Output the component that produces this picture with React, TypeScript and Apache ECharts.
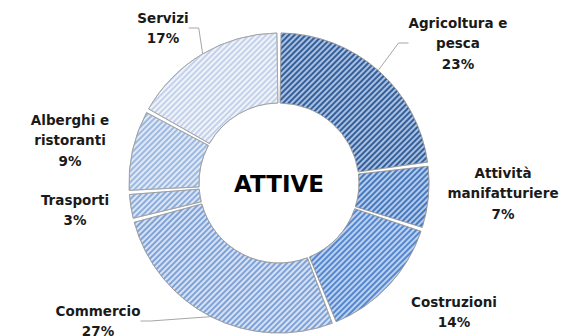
import React, { useEffect, useRef } from "react";
import * as echarts from "echarts";

const categories = [
  "Agricoltura e\npesca",
  "Attività\nmanifatturiere",
  "Costruzioni",
  "Commercio",
  "Trasporti",
  "Alberghi e\nristoranti",
  "Servizi",
];
const values = [23, 7, 14, 27, 3, 9, 17];
const centerTitle = "ATTIVE";

const baseColors = ["#a9c0e0", "#b4cbec", "#bcd2f0", "#d6e2f4", "#dae5f5", "#e0e9f6", "#f0f4fa"];
const stripeColors = ["#345f9a", "#4678bd", "#5487cf", "#7ea2d8", "#8cacdc", "#9db8e1", "#c3d2ea"];
const labelPos: [number, number][] = [
  [458, 43],
  [503, 193],
  [454, 312],
  [98, 321],
  [75, 210],
  [70, 140],
  [163, 28],
];
const showLine = [true, false, false, true, false, false, true];

export default function App() {
  const ref = useRef<HTMLDivElement>(null);
  useEffect(() => {
    if (!ref.current) return;
    const chart = echarts.init(ref.current, null, { renderer: "svg" });
    chart.setOption({
      animation: false,
      backgroundColor: "#ffffff",
      graphic: [
        {
          type: "text",
          style: {
            text: centerTitle,
            x: 279,
            y: 184,
            align: "center",
            verticalAlign: "middle",
            font: "bold 23px 'DejaVu Sans'",
            fill: "#000000",
          },
        },
      ],
      series: [
        {
          type: "pie",
          center: [279, 183],
          radius: [80, 150],
          startAngle: 90,
          clockwise: true,
          padAngle: 1.6,
          avoidLabelOverlap: false,
          itemStyle: { borderColor: "#999999", borderWidth: 0.7 },
          label: {
            show: true,
            position: "outside",
            fontFamily: "'DejaVu Sans'",
            fontWeight: "bold",
            fontSize: 13.5,
            lineHeight: 20.5,
            color: "#1a1a1a",
            align: "center",
            formatter: (p: any) => `${p.name}\n${p.value}%`,
          },
          labelLine: { show: true, length: 10, length2: 10, lineStyle: { color: "#a6a6a6", width: 1 } },
          labelLayout: (p: any) => ({
            x: labelPos[p.dataIndex][0],
            y: labelPos[p.dataIndex][1],
            align: "center",
            verticalAlign: "middle",
          }),
          data: categories.map((name, i) => ({
            name,
            value: values[i],
            labelLine: { show: showLine[i] },
            itemStyle: {
              color: baseColors[i],
              decal: {
                symbol: "rect",
                symbolSize: 1,
                color: stripeColors[i],
                dashArrayX: [1, 0],
                dashArrayY: [1.1, 1.73],
                rotation: -Math.PI / 4,
              },
            },
          })),
        },
      ],
    });
    return () => chart.dispose();
  }, []);
  return (
    <div
      ref={ref}
      style={{ position: "fixed", left: 0, top: 0, width: 565, height: 336 }}
    />
  );
}
